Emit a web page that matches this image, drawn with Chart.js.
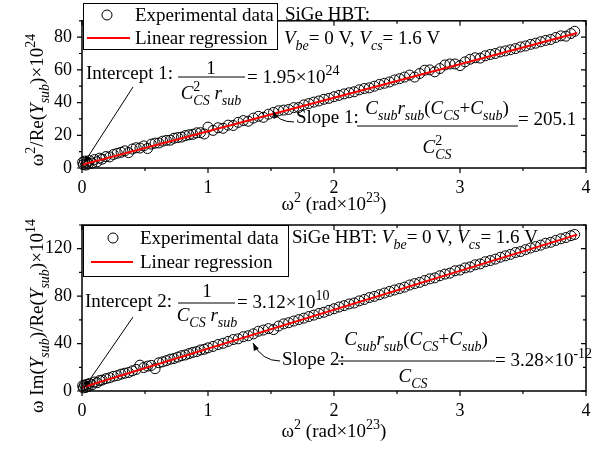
<!DOCTYPE html>
<html>
<head>
<meta charset="utf-8">
<script src="https://cdn.jsdelivr.net/npm/chart.js@4"></script>
<style>
body { margin: 0; background: #fff; }
canvas { position: absolute; left: 0; }
</style>
</head>
<body>
<canvas id="reChart" width="603" height="225" style="top:0"></canvas>
<canvas id="imChart" width="603" height="255" style="top:195px"></canvas>
<script>
// omega^2 (rad x 10^23), shared by both panels
var omega2 = [0.005, 0.01, 0.02, 0.03, 0.04, 0.05, 0.06, 0.08, 0.10, 0.12, 0.14, 0.16, 0.19, 0.22, 0.25, 0.28,
    0.31, 0.34, 0.37, 0.40, 0.43, 0.46, 0.49, 0.52, 0.55, 0.58, 0.61, 0.64, 0.67, 0.70, 0.73, 0.76, 0.79, 0.82,
    0.85, 0.88, 0.91, 0.94, 0.97, 1.00, 1.04, 1.08, 1.12, 1.16, 1.20, 1.24, 1.28, 1.32, 1.36, 1.40, 1.44, 1.48,
    1.52, 1.56, 1.60, 1.64, 1.68, 1.72, 1.76, 1.80, 1.84, 1.88, 1.92, 1.96, 2.00, 2.04, 2.08, 2.12, 2.16, 2.20,
    2.24, 2.28, 2.32, 2.36, 2.40, 2.44, 2.48, 2.52, 2.56, 2.60, 2.64, 2.68, 2.72, 2.76, 2.80, 2.84, 2.88, 2.92,
    2.96, 3.00, 3.04, 3.08, 3.12, 3.16, 3.20, 3.24, 3.28, 3.32, 3.36, 3.40, 3.44, 3.48, 3.52, 3.56, 3.60, 3.64,
    3.68, 3.72, 3.76, 3.80, 3.84, 3.88, 3.91];

// omega^2 / Re(Ysub) x 10^24
var reData = [3.5, 2.0, 4.2, 1.8, 3.6, 2.4, 4.5, 3.0, 5.2, 3.8, 6.0, 5.4, 7.0, 6.8, 8.3, 9.0,
    9.6, 10.5, 9.4, 11.6, 12.4, 12.2, 13.5, 11.9, 14.6, 15.2, 15.3, 16.4, 16.9, 17.0, 18.2, 18.6, 18.9, 19.8,
    20.3, 20.6, 21.5, 21.6, 20.8, 25.0, 23.0, 24.6, 24.3, 26.2, 26.0, 27.9, 29.0, 28.6, 30.5, 31.6, 31.0, 32.9,
    34.0, 35.0, 35.4, 35.8, 36.9, 37.0, 38.6, 39.4, 40.3, 41.0, 42.0, 42.6, 43.6, 44.4, 45.3, 46.0, 46.6, 47.8,
    48.6, 49.0, 50.0, 51.1, 51.8, 52.6, 53.8, 54.6, 55.6, 56.8, 55.6, 57.8, 59.8, 60.0, 58.8, 60.8, 63.0, 63.6,
    63.6, 62.6, 64.9, 66.5, 67.4, 67.2, 68.6, 69.4, 70.0, 71.0, 71.6, 72.3, 73.0, 74.0, 74.6, 75.6, 76.3, 77.2,
    78.0, 78.6, 79.8, 80.8, 80.6, 82.2, 83.6];

// omega Im(Ysub) / Re(Ysub) x 10^14
var imData = [4.5, 2.6, 5.0, 3.0, 5.6, 3.8, 6.4, 5.2, 7.6, 7.0, 8.8, 9.2, 10.4, 11.2, 12.4, 13.0,
    14.2, 15.0, 15.6, 17.0, 18.2, 21.8, 19.8, 21.0, 21.6, 18.8, 23.8, 24.6, 25.6, 26.8, 27.4, 28.6, 29.8, 30.4,
    31.6, 32.6, 33.2, 34.6, 35.2, 36.4, 37.6, 39.2, 40.2, 41.8, 43.4, 44.0, 45.8, 46.6, 48.2, 50.4, 51.4, 52.6,
    51.8, 54.8, 56.6, 57.6, 59.0, 60.2, 61.4, 62.8, 64.0, 65.4, 66.4, 68.0, 69.4, 70.8, 72.0, 73.4, 74.2, 76.0,
    77.2, 78.8, 79.8, 81.2, 82.6, 84.0, 85.2, 86.4, 87.6, 89.4, 90.6, 91.6, 93.2, 94.6, 95.4, 97.2, 98.6, 99.4,
    101.4, 102.0, 103.8, 104.6, 106.4, 107.2, 109.0, 110.0, 111.2, 112.8, 114.0, 115.2, 116.8, 117.6, 119.2, 120.6, 121.8, 123.0,
    124.6, 125.4, 127.0, 128.4, 129.4, 131.0, 132.0];

// regression line end points
var fitX = [0, 3.93];
var reFit = [1.95, 82.5];
var imFit = [3.0, 131.9];

var xTicks = [0, 1, 2, 3, 4];
var xMinor = [0.5, 1.5, 2.5, 3.5];
var reTicks = [0, 20, 40, 60, 80];
var reMinor = [10, 30, 50, 70, 90];
var imTicks = [0, 40, 80, 120];
var imMinor = [20, 60, 100, 140];

var FONT = "Liberation Serif";
var S = 19;
Chart.defaults.font.family = FONT;

function setFont(ctx, size, italic) {
    ctx.font = (italic ? "italic " : "") + size + "px " + FONT;
}

// runs: [text, flags, stackedSub]; flags: i = italic, b = subscript, p = superscript
function runSize(r) {
    var f = r[1] || "";
    return (f.indexOf("b") >= 0 || f.indexOf("p") >= 0) ? Math.round(S * 0.72) : S;
}
function runWidth(ctx, r) {
    var f = r[1] || "";
    var sz = runSize(r);
    setFont(ctx, sz, f.indexOf("i") >= 0);
    var w = ctx.measureText(r[0]).width;
    if (r[2]) {
        setFont(ctx, sz, true);
        w = Math.max(w, ctx.measureText(r[2]).width);
    }
    return w;
}
function rich(ctx, x, y, runs, align) {
    var total = 0;
    runs.forEach(function(r) { total += runWidth(ctx, r); });
    if (align === "center") x -= total / 2;
    ctx.textAlign = "left";
    ctx.textBaseline = "alphabetic";
    ctx.fillStyle = "#000";
    runs.forEach(function(r) {
        var f = r[1] || "";
        var w = runWidth(ctx, r);
        var sz = runSize(r);
        setFont(ctx, sz, f.indexOf("i") >= 0);
        if (r[2]) {
            ctx.fillText(r[0], x, y - S * 0.42);
            setFont(ctx, sz, true);
            ctx.fillText(r[2], x, y + S * 0.3);
        } else {
            var dy = f.indexOf("b") >= 0 ? S * 0.3 : (f.indexOf("p") >= 0 ? -S * 0.42 : 0);
            ctx.fillText(r[0], x, y + dy);
        }
        x += w;
    });
    return total;
}

function arrowHead(ctx, x, y, ang) {
    ctx.beginPath();
    ctx.moveTo(x, y);
    ctx.lineTo(x - 8 * Math.cos(ang - 0.35), y - 8 * Math.sin(ang - 0.35));
    ctx.lineTo(x - 8 * Math.cos(ang + 0.35), y - 8 * Math.sin(ang + 0.35));
    ctx.closePath();
    ctx.fill();
}
function arrow(ctx, x1, y1, x2, y2) {
    ctx.strokeStyle = "#000";
    ctx.fillStyle = "#000";
    ctx.lineWidth = 1;
    ctx.beginPath();
    ctx.moveTo(x1, y1);
    ctx.lineTo(x2, y2);
    ctx.stroke();
    arrowHead(ctx, x2, y2, Math.atan2(y2 - y1, x2 - x1));
}
function curvedArrow(ctx, x1, y1, cx, cy, x2, y2) {
    ctx.strokeStyle = "#000";
    ctx.fillStyle = "#000";
    ctx.lineWidth = 1;
    ctx.beginPath();
    ctx.moveTo(x1, y1);
    ctx.quadraticCurveTo(cx, cy, x2, y2);
    ctx.stroke();
    arrowHead(ctx, x2, y2, Math.atan2(y2 - cy, x2 - cx));
}
function fracLine(ctx, x1, x2, y) {
    ctx.strokeStyle = "#000";
    ctx.lineWidth = 1;
    ctx.beginPath();
    ctx.moveTo(x1, y);
    ctx.lineTo(x2, y);
    ctx.stroke();
}

function legend(ctx, x, y, w, h, cx, cy1, cy2, lx1, lx2, tx) {
    ctx.fillStyle = "#fff";
    ctx.fillRect(x, y, w, h);
    ctx.strokeStyle = "#000";
    ctx.lineWidth = 1;
    ctx.strokeRect(x + 0.5, y + 0.5, w, h);
    ctx.beginPath();
    ctx.arc(cx, cy1, 5, 0, Math.PI * 2);
    ctx.stroke();
    ctx.strokeStyle = "#ff0000";
    ctx.lineWidth = 2;
    ctx.beginPath();
    ctx.moveTo(lx1, cy2);
    ctx.lineTo(lx2, cy2);
    ctx.stroke();
    rich(ctx, tx, cy1 + 6, [["Experimental data"]]);
    rich(ctx, tx, cy2 + 6, [["Linear regression"]]);
}

// frame and ticks
var framePlugin = {
    id: "frame",
    afterDatasetsDraw: function(chart, args, opts) {
        var ctx = chart.ctx, a = chart.chartArea;
        var xs = chart.scales.x, ys = chart.scales.y;
        ctx.save();
        ctx.strokeStyle = "#000";
        ctx.lineWidth = 1.5;
        ctx.strokeRect(a.left, a.top, a.right - a.left, a.bottom - a.top);
        ctx.lineWidth = 1.2;
        ctx.beginPath();
        function xt(v, len) {
            var px = xs.getPixelForValue(v);
            ctx.moveTo(px, a.bottom); ctx.lineTo(px, a.bottom + len);
            ctx.moveTo(px, a.top); ctx.lineTo(px, a.top + len);
        }
        function yt(v, len) {
            var py = ys.getPixelForValue(v);
            ctx.moveTo(a.left, py); ctx.lineTo(a.left - len, py);
            ctx.moveTo(a.right, py); ctx.lineTo(a.right - len, py);
        }
        xTicks.forEach(function(v) { xt(v, 5); });
        xMinor.forEach(function(v) { xt(v, 3); });
        opts.major.forEach(function(v) { yt(v, 5); });
        opts.minor.forEach(function(v) { yt(v, 3); });
        ctx.stroke();
        ctx.restore();
    },
    afterDraw: function(chart, args, opts) {
        var ctx = chart.ctx;
        ctx.save();
        ctx.translate(0, opts.shift);
        opts.draw(ctx);
        ctx.restore();
    }
};

function makeChart(id, values, fitY, yMax, major, minor, xHeight, padTop, shift, draw) {
    var pts = omega2.map(function(x, i) { return { x: x, y: values[i] }; });
    var fit = fitX.map(function(x, i) { return { x: x, y: fitY[i] }; });
    return new Chart(document.getElementById(id), {
        type: "scatter",
        data: {
            datasets: [
                {
                    type: "line",
                    data: fit,
                    borderColor: "#ff0000",
                    borderWidth: 2,
                    pointRadius: 0
                },
                {
                    data: pts,
                    pointRadius: 5,
                    borderWidth: 1,
                    borderColor: "#000",
                    backgroundColor: "rgba(255,255,255,0)",
                    clip: false
                }
            ]
        },
        options: {
            responsive: false,
            animation: false,
            layout: { padding: { top: padTop, right: 17, left: 0, bottom: 0 } },
            plugins: {
                legend: { display: false },
                tooltip: { enabled: false },
                frame: { major: major, minor: minor, shift: shift, draw: draw }
            },
            scales: {
                x: {
                    type: "linear",
                    min: 0,
                    max: 4,
                    grid: { display: false, drawTicks: false },
                    border: { display: false },
                    afterBuildTicks: function(s) { s.ticks = xTicks.map(function(v) { return { value: v }; }); },
                    afterFit: function(s) { s.height = xHeight; },
                    ticks: { color: "#000", padding: 9, maxRotation: 0, font: { family: FONT, size: 18 } }
                },
                y: {
                    type: "linear",
                    min: 0,
                    max: yMax,
                    grid: { display: false, drawTicks: false },
                    border: { display: false },
                    afterBuildTicks: function(s) { s.ticks = major.map(function(v) { return { value: v }; }); },
                    afterFit: function(s) { s.width = 82; },
                    ticks: { color: "#000", padding: 10, font: { family: FONT, size: 18 } }
                }
            }
        },
        plugins: [framePlugin]
    });
}

makeChart("reChart", reData, reFit, 90, reTicks, reMinor, 57, 3, 0, function(ctx) {
    legend(ctx, 83, 3, 194, 46, 107, 15, 38, 87, 130, 135);
    rich(ctx, 285, 20, [["SiGe HBT:"]]);
    rich(ctx, 284, 44, [["V", "i"], ["be", "ib"], ["= 0 V, "], ["V", "i"], ["cs", "ib"], ["= 1.6 V"]]);

    rich(ctx, 86, 79, [["Intercept 1:"]]);
    rich(ctx, 211, 74, [["1"]], "center");
    fracLine(ctx, 178, 245, 77);
    rich(ctx, 211, 99, [["C", "i"], ["2", "p", "CS"], [" "], ["r", "i"], ["sub", "ib"]], "center");
    rich(ctx, 247, 83, [["= 1.95×10"], ["24", "p"]]);
    arrow(ctx, 133, 87, 84, 163);

    rich(ctx, 296, 123, [["Slope 1:"]]);
    rich(ctx, 437, 114, [["C", "i"], ["sub", "ib"], ["r", "i"], ["sub", "ib"], ["("], ["C", "i"], ["CS", "ib"],
        ["+"], ["C", "i"], ["sub", "ib"], [")"]], "center");
    fracLine(ctx, 357, 518, 126);
    rich(ctx, 437, 153, [["C", "i"], ["2", "p", "CS"]], "center");
    rich(ctx, 518, 125, [["= 205.1"]]);
    curvedArrow(ctx, 294, 122, 278, 122, 273, 111);

    ctx.save();
    ctx.translate(43, 100);
    ctx.rotate(-Math.PI / 2);
    rich(ctx, 0, 0, [["ω"], ["2", "p"], ["/Re("], ["Y", "i"], ["sub", "ib"], [")×10"], ["24", "p"]], "center");
    ctx.restore();
    rich(ctx, 334, 210, [["ω"], ["2", "p"], [" (rad×10"], ["23", "p"], [")"]], "center");
});

// bottom canvas starts 30px higher so the long y title fits; drawing is shifted back by 30
makeChart("imChart", imData, imFit, 140, imTicks, imMinor, 59, 30, 30, function(ctx) {
    legend(ctx, 83, 0, 205, 51, 113, 13, 37, 91, 133, 140);
    rich(ctx, 292, 18, [["SiGe HBT: "], ["V", "i"], ["be", "ib"], ["= 0 V, "], ["V", "i"], ["cs", "ib"], ["= 1.6 V"]]);

    rich(ctx, 85, 82, [["Intercept 2:"]]);
    rich(ctx, 207, 72, [["1"]], "center");
    fracLine(ctx, 178, 235, 78);
    rich(ctx, 207, 96, [["C", "i"], ["CS", "ib"], [" "], ["r", "i"], ["sub", "ib"]], "center");
    rich(ctx, 237, 83, [["= 3.12×10"], ["10", "p"]]);
    arrow(ctx, 133, 92, 84, 163);

    rich(ctx, 282, 140, [["Slope 2:"]]);
    rich(ctx, 416, 120, [["C", "i"], ["sub", "ib"], ["r", "i"], ["sub", "ib"], ["("], ["C", "i"], ["CS", "ib"],
        ["+"], ["C", "i"], ["sub", "ib"], [")"]], "center");
    fracLine(ctx, 338, 495, 136);
    rich(ctx, 413, 157, [["C", "i"], ["CS", "ib"]], "center");
    rich(ctx, 495, 141, [["= 3.28×10"], ["-12", "p"]]);
    curvedArrow(ctx, 280, 136, 262, 136, 253, 118);

    ctx.save();
    ctx.translate(43, 91);
    ctx.rotate(-Math.PI / 2);
    rich(ctx, 0, 0, [["ω Im("], ["Y", "i"], ["sub", "ib"], [")/Re("], ["Y", "i"], ["sub", "ib"], [")×10"], ["14", "p"]], "center");
    ctx.restore();
    rich(ctx, 334, 212, [["ω"], ["2", "p"], [" (rad×10"], ["23", "p"], [")"]], "center");
});
</script>
</body>
</html>
